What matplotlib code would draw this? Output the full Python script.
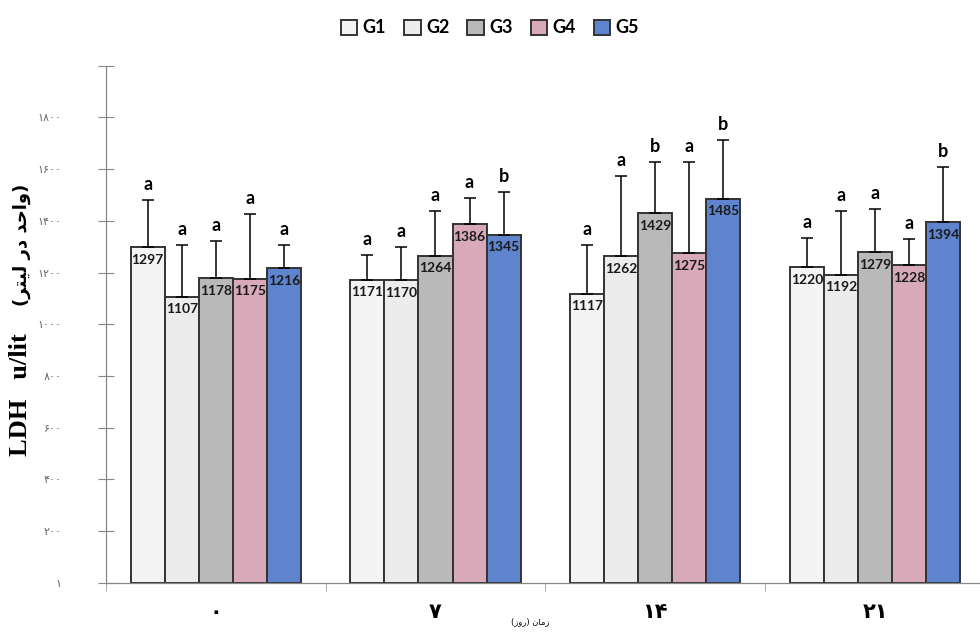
import matplotlib
matplotlib.use('Agg')
import matplotlib.pyplot as plt
import numpy as np

# data
days = ['۰', '۷', '۱۴', '۲۱']
groups = ['G1', 'G2', 'G3', 'G4', 'G5']
G1 = [1297, 1171, 1117, 1220]
G2 = [1107, 1170, 1262, 1192]
G3 = [1178, 1264, 1429, 1279]
G4 = [1175, 1386, 1275, 1228]
G5 = [1216, 1345, 1485, 1394]
err_G1 = [185, 98, 191, 115]
err_G2 = [200, 130, 313, 247]
err_G3 = [145, 175, 200, 168]
err_G4 = [253, 103, 354, 103]
err_G5 = [92, 168, 229, 215]
let_G1 = ['a', 'a', 'a', 'a']
let_G2 = ['a', 'a', 'a', 'a']
let_G3 = ['a', 'a', 'b', 'a']
let_G4 = ['a', 'a', 'a', 'a']
let_G5 = ['a', 'b', 'b', 'b']
yticks = [0, 200, 400, 600, 800, 1000, 1200, 1400, 1600, 1800, 2000]
ytick_labels = ['۱', '۲۰۰', '۴۰۰', '۶۰۰', '۸۰۰', '۱۰۰۰', '۱۲۰۰', '۱۴۰۰', '۱۶۰۰', '۱۸۰۰', '']
# Persian text given in presentation forms, visual order (matplotlib has no shaping)
ylabel_fa = '(ﺮﺘﻴﻟ ﺭﺩ ﺪﺣﺍﻭ)'
xlabel_fa = '(ﺯﻭﺭ) ﻥﺎﻣﺯ'

values = [G1, G2, G3, G4, G5]
errors = [err_G1, err_G2, err_G3, err_G4, err_G5]
letters = [let_G1, let_G2, let_G3, let_G4, let_G5]
colors = ['#f4f4f4', '#ececec', '#b9b9b9', '#d7a9b9', '#5d84cc']

fig = plt.figure(figsize=(9.8, 6.37), dpi=100)
ax = fig.add_axes([0.108, 0.085, 0.897, 0.812])

x = np.arange(len(days))
w = 0.155
for i in range(5):
    xs = x + (i - 2) * w
    ax.bar(xs, values[i], w, color=colors[i], edgecolor='#333333', linewidth=1.4,
           label=groups[i], zorder=2)
    ax.errorbar(xs, values[i], yerr=[np.zeros(4), errors[i]], fmt='none',
                ecolor='black', elinewidth=1.1, capsize=4, capthick=1.1, zorder=3)
    for j in range(4):
        ax.text(xs[j], values[i][j] - 25, str(values[i][j]), ha='center', va='top',
                fontsize=10, fontweight='bold', family='Lato', color='#1a1a1a', zorder=4)
        ax.text(xs[j], values[i][j] + errors[i][j] + 25, letters[i][j], ha='center',
                va='bottom', fontsize=13, fontweight='bold', family='Lato', zorder=4)

ax.set_xlim(-0.5, 3.5)
ax.set_ylim(0, 2000)
ax.set_yticks(yticks)
ax.set_yticklabels(ytick_labels, fontsize=8, color='#666666', family='DejaVu Sans')
ax.tick_params(axis='y', direction='inout', length=12, width=0.8, color='#888888', pad=26)

ax.set_xticks(x)
ax.set_xticklabels(days, fontsize=15, fontweight='bold', family='DejaVu Sans')
ax.tick_params(axis='x', length=0, pad=14)
ax.set_xticks(np.arange(-0.5, 3.5, 1), minor=True)
ax.tick_params(axis='x', which='minor', direction='out', length=6, color='#999999')

for s in ['top', 'right']:
    ax.spines[s].set_visible(False)
for s in ['left', 'bottom']:
    ax.spines[s].set_color('#888888')
    ax.spines[s].set_linewidth(0.9)

ax.text(1.43, -150, xlabel_fa, ha='center', va='center', fontsize=6, family='DejaVu Sans')

fig.text(0.021, 0.38, 'LDH   u/lit', rotation=90, ha='center', va='center',
         fontsize=19, fontweight='bold', family='Liberation Serif')
fig.text(0.022, 0.615, ylabel_fa, rotation=90, ha='center', va='center',
         fontsize=13, fontweight='bold', family='DejaVu Sans')

leg = fig.legend(loc='upper center', bbox_to_anchor=(0.5, 0.995), ncol=5, frameon=False,
                 handlelength=0.9, handleheight=0.9, columnspacing=1.0, handletextpad=0.3,
                 prop={'family': 'Lato', 'weight': 'bold', 'size': 13})

fig.savefig('out.png', dpi=100)
